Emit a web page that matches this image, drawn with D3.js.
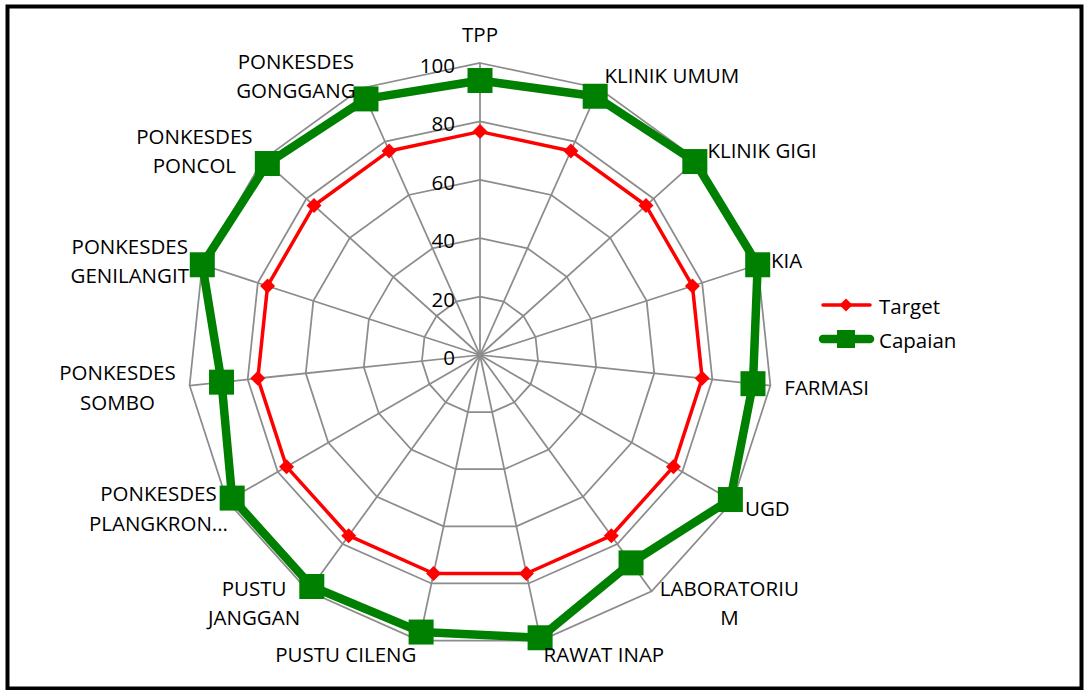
<!DOCTYPE html>
<html>
<head>
<meta charset="utf-8">
<script src="https://cdn.jsdelivr.net/npm/d3@7/dist/d3.min.js"></script>
<style>
  html, body { margin: 0; padding: 0; background: #fff; }
  svg { display: block; }
  text { font-family: "Open Sans", Lato, sans-serif; fill: #000; }
</style>
</head>
<body>
<svg id="chart" width="1085" height="690"></svg>
<script>
// Service units (line breaks mark where the label wraps)
const categories = [
  "TPP", "KLINIK UMUM", "KLINIK GIGI", "KIA", "FARMASI", "UGD",
  "LABORATORIU\nM", "RAWAT INAP", "PUSTU CILENG", "PUSTU\nJANGGAN",
  "PONKESDES\nPLANGKRON...", "PONKESDES\nSOMBO", "PONKESDES\nGENILANGIT",
  "PONKESDES\nPONCOL", "PONKESDES\nGONGGANG"
];
const seriesNames = ["Target", "Capaian"];
const targetValues = [76.5, 76.5, 76.5, 76.5, 76.5, 76.5, 76.5, 76.5, 76.5, 76.5, 76.5, 76.5, 76.5, 76.5, 76.5];
const capaianValues = [94, 97, 99, 100, 94, 99, 88, 99, 97, 98, 98, 89, 100, 98, 96];
const tickValues = [0, 20, 40, 60, 80, 100];

const svg = d3.select("#chart");
const cx = 480, cy = 355, R = 292;
const fontSize = 20.5;

// frame
svg.append("rect")
  .attr("x", 7.5).attr("y", 6.5)
  .attr("width", 1074).attr("height", 682)
  .attr("fill", "#fff").attr("stroke", "#000").attr("stroke-width", 4);

const n = categories.length;
const angle = d3.scaleLinear().domain([0, n]).range([0, 2 * Math.PI]);
const r = d3.scaleLinear().domain([0, 100]).range([0, R]);

const g = svg.append("g").attr("transform", `translate(${cx},${cy})`);

// grid rings
const ring = d3.lineRadial()
  .angle((d, i) => angle(i))
  .radius(d => r(d))
  .curve(d3.curveLinearClosed);

g.append("g").selectAll("path")
  .data(tickValues.filter(t => t > 0))
  .join("path")
  .attr("d", t => ring(d3.range(n).map(() => t)))
  .attr("fill", "none")
  .attr("stroke", "#8c8c8c")
  .attr("stroke-width", 1.75);

// spokes
g.append("g").selectAll("line")
  .data(d3.range(n))
  .join("line")
  .attr("x1", 0).attr("y1", 0)
  .attr("x2", i => r(100) * Math.sin(angle(i)))
  .attr("y2", i => -r(100) * Math.cos(angle(i)))
  .attr("stroke", "#8c8c8c")
  .attr("stroke-width", 1.75);

// value axis labels along the first spoke
g.append("g").selectAll("text")
  .data(tickValues)
  .join("text")
  .attr("x", -25)
  .attr("y", t => -r(t) + 2)
  .attr("text-anchor", "end")
  .attr("dominant-baseline", "central")
  .style("font-size", fontSize + "px")
  .text(t => t);

// series
const seriesLine = d3.lineRadial()
  .angle((d, i) => angle(i))
  .radius(d => r(d))
  .curve(d3.curveLinearClosed);

const pos = (v, i) => [r(v) * Math.sin(angle(i)), -r(v) * Math.cos(angle(i))];
const diamond = s => `M0,${-s}L${s},0L0,${s}L${-s},0Z`;

// Target
g.append("path")
  .attr("d", seriesLine(targetValues))
  .attr("fill", "none")
  .attr("stroke", "#ff0000")
  .attr("stroke-width", 3.5)
  .attr("stroke-linejoin", "round");
g.append("g").selectAll("path")
  .data(targetValues)
  .join("path")
  .attr("transform", (v, i) => `translate(${pos(v, i)})`)
  .attr("d", diamond(7.5))
  .attr("fill", "#ff0000");

// Capaian
g.append("path")
  .attr("d", seriesLine(capaianValues))
  .attr("fill", "none")
  .attr("stroke", "#008000")
  .attr("stroke-width", 8.5)
  .attr("stroke-linejoin", "round");
g.append("g").selectAll("rect")
  .data(capaianValues)
  .join("rect")
  .attr("x", (v, i) => pos(v, i)[0] - 12.5)
  .attr("y", (v, i) => pos(v, i)[1] - 12.5)
  .attr("width", 25).attr("height", 25)
  .attr("fill", "#008000");

// category labels, placed just outside the outer ring
const labelR = R + 14;
const lineH = 29.5;
categories.forEach((label, i) => {
  const a = angle(i);
  const s = Math.sin(a), c = Math.cos(a);
  const px = labelR * s, py = -labelR * c;
  const lines = label.split("\n");
  const t = g.append("text")
    .attr("text-anchor", "middle")
    .attr("dominant-baseline", "central")
    .style("font-size", fontSize + "px");
  const spans = lines.map(l => t.append("tspan").text(l));
  const w = d3.max(spans, sp => sp.node().getComputedTextLength());
  let bx;
  if (Math.abs(s) < 0.05) bx = px;
  else if (s > 0) bx = px + w / 2;
  else bx = px - w / 2;
  // a shortened label keeps the box of its full name, so it sits further in
  if (label.endsWith("...")) bx += 13;
  const by = Math.abs(s) < 0.05 && c > 0 ? py - 15 : py;
  const top = by - (lines.length - 1) * lineH / 2;
  spans.forEach((sp, k) => sp.attr("x", bx).attr("y", top + k * lineH));
});

// legend
const legend = svg.append("g");
const legendItems = [
  { name: seriesNames[0], color: "#ff0000", width: 3.5, marker: "diamond", y: 305 },
  { name: seriesNames[1], color: "#008000", width: 8.5, marker: "square", y: 339 }
];
legendItems.forEach(d => {
  legend.append("line")
    .attr("x1", 823).attr("x2", 870)
    .attr("y1", d.y).attr("y2", d.y)
    .attr("stroke", d.color).attr("stroke-width", d.width)
    .attr("stroke-linecap", "round");
  if (d.marker === "diamond") {
    legend.append("path").attr("transform", `translate(846,${d.y})`)
      .attr("d", diamond(6.5)).attr("fill", d.color);
  } else {
    legend.append("rect").attr("x", 846 - 9).attr("y", d.y - 9)
      .attr("width", 18).attr("height", 18).attr("fill", d.color);
  }
  legend.append("text")
    .attr("x", 879).attr("y", d.y + 1)
    .attr("dominant-baseline", "central")
    .style("font-size", fontSize + "px")
    .text(d.name);
});
</script>
</body>
</html>
